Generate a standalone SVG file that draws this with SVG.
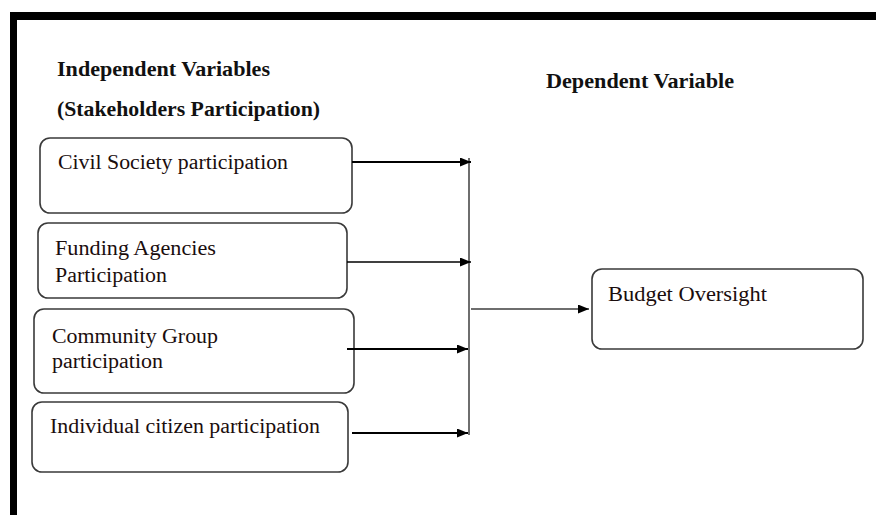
<svg xmlns="http://www.w3.org/2000/svg" width="876" height="515" viewBox="0 0 876 515">
<style>
.box{fill:#fff;stroke:#3a3a3a;stroke-width:1.6}
.t{font-family:"Liberation Serif","Times New Roman",serif;font-size:20px;fill:#1a0d0d}
.h{font-family:"Liberation Serif","Times New Roman",serif;font-size:22px;font-weight:bold;fill:#111}
.c{stroke:#000;stroke-width:2;fill:none}
.c2{stroke:#000;stroke-width:1.3;fill:none}
.g{stroke:#6e6e6e;stroke-width:2;fill:none}
</style>
<defs>
<marker id="ah" markerWidth="11" markerHeight="9" refX="11" refY="4.5" orient="auto" markerUnits="userSpaceOnUse">
<path d="M0,0 L11,4.5 L0,9 Z" fill="#000"/>
</marker>
</defs>
<rect x="0" y="0" width="876" height="515" fill="#fff"/>
<rect x="10" y="12" width="866" height="8" fill="#000"/>
<rect x="10" y="12" width="7" height="503" fill="#000"/>
<g id="headings">
<text class="h" x="57" y="76" textLength="213" lengthAdjust="spacingAndGlyphs">Independent Variables</text>
<text class="h" x="57" y="116" textLength="263" lengthAdjust="spacingAndGlyphs">(Stakeholders Participation)</text>
<text class="h" x="546" y="88" textLength="188" lengthAdjust="spacingAndGlyphs">Dependent Variable</text>
</g>
<g id="n1"><rect class="box" x="40" y="138" width="312" height="75" rx="10"/><text class="t" x="58" y="169" textLength="230" lengthAdjust="spacingAndGlyphs">Civil Society participation</text></g>
<g id="n2"><rect class="box" x="38" y="223" width="309" height="75" rx="10"/><text class="t" x="55" y="255" textLength="161" lengthAdjust="spacingAndGlyphs">Funding Agencies</text><text class="t" x="55" y="282" textLength="112" lengthAdjust="spacingAndGlyphs">Participation</text></g>
<g id="n3"><rect class="box" x="34" y="309" width="320" height="84" rx="10"/><text class="t" x="52" y="343" textLength="166" lengthAdjust="spacingAndGlyphs">Community Group</text><text class="t" x="52" y="368" textLength="111" lengthAdjust="spacingAndGlyphs">participation</text></g>
<g id="n4"><rect class="box" x="32" y="402" width="316" height="70" rx="10"/><text class="t" x="50" y="433" textLength="270" lengthAdjust="spacingAndGlyphs">Individual citizen participation</text></g>
<g id="n5"><rect class="box" x="592" y="269" width="271" height="80" rx="10"/><text class="t" x="608" y="301" textLength="159" lengthAdjust="spacingAndGlyphs">Budget Oversight</text></g>
<g id="connectors">
<line class="g" x1="469" y1="158" x2="469" y2="435"/>
<line class="c" x1="352" y1="162" x2="471" y2="162" marker-end="url(#ah)"/>
<line class="c2" x1="347" y1="262" x2="471" y2="262" marker-end="url(#ah)"/>
<line class="c" x1="347" y1="349" x2="468" y2="349" marker-end="url(#ah)"/>
<line class="c" x1="352" y1="433" x2="468" y2="433" marker-end="url(#ah)"/>
<line class="g" x1="471" y1="309" x2="589" y2="309" marker-end="url(#ah)"/>
</g>
</svg>
